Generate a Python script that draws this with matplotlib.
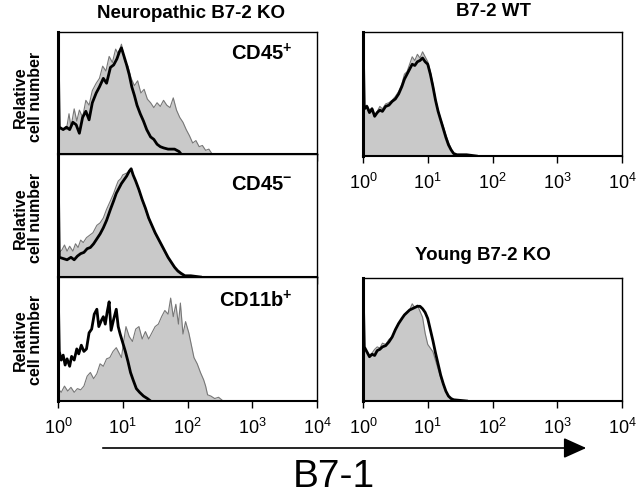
import numpy as np
import matplotlib
matplotlib.use("Agg")
import matplotlib.pyplot as plt

plt.rcParams['font.family'] = ['Liberation Sans', 'DejaVu Sans']
plt.rcParams['mathtext.default'] = 'regular'

# x positions are log10(fluorescence), y is relative cell number (0..1 of panel height)

# --- Neuropathic B7-2 KO, CD45+ ---
cd45p_gray_x = [0.0, 0.0, 0.01, 0.02, 0.08, 0.13, 0.17, 0.2, 0.25, 0.29, 0.33, 0.38, 0.43, 0.48,
                0.53, 0.59, 0.64, 0.69, 0.74, 0.79, 0.84, 0.89, 0.93, 0.98, 1.03, 1.08, 1.13,
                1.18, 1.23, 1.28, 1.33, 1.38, 1.43, 1.48, 1.53, 1.58, 1.63, 1.68, 1.73, 1.78,
                1.83, 1.88, 1.93, 1.98, 2.03, 2.08, 2.13, 2.18, 2.23, 2.28, 2.33, 2.38]
cd45p_gray_y = [0.0, 0.56, 0.56, 0.2, 0.21, 0.2, 0.33, 0.22, 0.37, 0.27, 0.36, 0.3, 0.44, 0.4,
                0.52, 0.58, 0.62, 0.72, 0.68, 0.8, 0.75, 0.86, 0.82, 0.9, 0.76, 0.72, 0.62,
                0.56, 0.6, 0.5, 0.53, 0.45, 0.42, 0.38, 0.42, 0.39, 0.44, 0.4, 0.38, 0.46,
                0.36, 0.3, 0.26, 0.2, 0.15, 0.09, 0.11, 0.06, 0.07, 0.03, 0.04, 0.0]
cd45p_black_x = [0.0, 0.0, 0.02, 0.08, 0.13, 0.18, 0.23, 0.28, 0.33, 0.38, 0.43, 0.48, 0.53,
                 0.59, 0.64, 0.7, 0.75, 0.81, 0.86, 0.91, 0.95, 0.98, 1.02, 1.06, 1.1, 1.14,
                 1.18, 1.22, 1.27, 1.32, 1.37, 1.43, 1.48, 1.53, 1.58, 1.63, 1.7, 1.8, 1.87, 1.9]
cd45p_black_y = [0.0, 0.95, 0.22, 0.2, 0.22, 0.2, 0.26, 0.24, 0.17, 0.3, 0.35, 0.28, 0.42,
                 0.5, 0.55, 0.62, 0.58, 0.71, 0.73, 0.78, 0.84, 0.87, 0.8, 0.73, 0.65, 0.55,
                 0.48, 0.4, 0.33, 0.27, 0.2, 0.14, 0.12, 0.08, 0.06, 0.05, 0.04, 0.04, 0.02, 0.0]

# --- Neuropathic B7-2 KO, CD45- ---
cd45n_gray_x = [0.0, 0.0, 0.01, 0.02, 0.06, 0.1, 0.14, 0.18, 0.23, 0.27, 0.31, 0.35, 0.39, 0.44,
                0.49, 0.54, 0.6, 0.65, 0.7, 0.75, 0.81, 0.86, 0.9, 0.93, 0.97, 1.0, 1.04, 1.08,
                1.12, 1.15, 1.2, 1.25, 1.3, 1.35, 1.4, 1.45, 1.5, 1.55, 1.6, 1.65, 1.7, 1.75,
                1.8, 1.85, 1.9, 1.98, 2.1]
cd45n_gray_y = [0.0, 0.61, 0.61, 0.2, 0.22, 0.26, 0.21, 0.25, 0.21, 0.27, 0.24, 0.3, 0.28, 0.32,
                0.34, 0.36, 0.42, 0.44, 0.48, 0.55, 0.62, 0.68, 0.74, 0.78, 0.8, 0.83, 0.84, 0.85,
                0.87, 0.84, 0.78, 0.7, 0.62, 0.55, 0.47, 0.41, 0.35, 0.3, 0.25, 0.2, 0.15, 0.11,
                0.07, 0.04, 0.02, 0.01, 0.0]
cd45n_black_x = [0.0, 0.0, 0.02, 0.08, 0.14, 0.2, 0.25, 0.3, 0.35, 0.4, 0.45, 0.5, 0.55, 0.6,
                 0.65, 0.7, 0.75, 0.81, 0.86, 0.9, 0.94, 0.98, 1.02, 1.06, 1.1, 1.13, 1.16, 1.2,
                 1.25, 1.3, 1.35, 1.4, 1.45, 1.5, 1.55, 1.6, 1.65, 1.7, 1.75, 1.8, 1.85, 1.9,
                 1.96, 2.05, 2.2]
cd45n_black_y = [0.0, 1.0, 0.16, 0.15, 0.14, 0.16, 0.14, 0.17, 0.19, 0.2, 0.23, 0.24, 0.27, 0.31,
                 0.35, 0.4, 0.46, 0.55, 0.62, 0.68, 0.72, 0.76, 0.79, 0.82, 0.86, 0.88, 0.83, 0.78,
                 0.71, 0.63, 0.56, 0.48, 0.42, 0.36, 0.31, 0.26, 0.21, 0.16, 0.12, 0.08, 0.05, 0.03,
                 0.01, 0.01, 0.0]

# --- Neuropathic B7-2 KO, CD11b+ ---
cd11b_gray_x = [0.0, 0.0, 0.05, 0.1, 0.15, 0.2, 0.25, 0.3, 0.35, 0.4, 0.45, 0.5, 0.55, 0.6, 0.65,
                0.7, 0.75, 0.8, 0.85, 0.9, 0.95, 0.98, 1.02, 1.05, 1.1, 1.15, 1.2, 1.25, 1.3,
                1.35, 1.4, 1.45, 1.5, 1.55, 1.6, 1.65, 1.7, 1.74, 1.78, 1.82, 1.86, 1.89, 1.93,
                1.97, 2.02, 2.06, 2.1, 2.15, 2.2, 2.25, 2.28, 2.31, 2.36, 2.42, 2.48, 2.55]
cd11b_gray_y = [0.0, 0.1, 0.07, 0.12, 0.08, 0.11, 0.07, 0.1, 0.09, 0.12, 0.2, 0.23, 0.18, 0.22, 0.3,
                0.28, 0.34, 0.35, 0.4, 0.43, 0.38, 0.35, 0.5, 0.6, 0.52, 0.48, 0.58, 0.6, 0.5,
                0.56, 0.5, 0.55, 0.6, 0.62, 0.68, 0.73, 0.7, 0.83, 0.68, 0.78, 0.62, 0.79, 0.54,
                0.64, 0.55, 0.45, 0.35, 0.3, 0.23, 0.17, 0.12, 0.05, 0.04, 0.02, 0.03, 0.0]
cd11b_black_x = [0.0, 0.0, 0.02, 0.05, 0.08, 0.11, 0.14, 0.18, 0.21, 0.25, 0.29, 0.32, 0.36, 0.4,
                 0.44, 0.48, 0.52, 0.56, 0.6, 0.63, 0.67, 0.7, 0.73, 0.76, 0.79, 0.82, 0.86, 0.9,
                 0.93, 0.96, 1.0, 1.04, 1.08, 1.12, 1.16, 1.21, 1.26, 1.32, 1.38, 1.43]
cd11b_black_y = [0.0, 1.0, 0.4, 0.33, 0.37, 0.29, 0.34, 0.28, 0.36, 0.33, 0.42, 0.38, 0.45, 0.4,
                 0.42, 0.55, 0.58, 0.7, 0.74, 0.6, 0.65, 0.68, 0.62, 0.72, 0.8, 0.57, 0.66, 0.74,
                 0.6, 0.54, 0.47, 0.4, 0.32, 0.23, 0.17, 0.1, 0.07, 0.04, 0.02, 0.0]

# --- B7-2 WT ---
wt_gray_x = [0.0, 0.0, 0.01, 0.02, 0.06, 0.1, 0.14, 0.18, 0.22, 0.26, 0.3, 0.35, 0.4, 0.45, 0.5,
             0.55, 0.6, 0.64, 0.68, 0.72, 0.76, 0.8, 0.84, 0.88, 0.92, 0.96, 1.0, 1.04, 1.08,
             1.12, 1.16, 1.2, 1.24, 1.28, 1.32, 1.36, 1.4, 1.45, 1.6, 1.75]
wt_gray_y = [0.0, 0.67, 0.67, 0.4, 0.41, 0.37, 0.39, 0.33, 0.36, 0.4, 0.38, 0.42, 0.43, 0.45, 0.48,
             0.52, 0.58, 0.66, 0.68, 0.74, 0.8, 0.77, 0.82, 0.79, 0.84, 0.8, 0.76, 0.68, 0.58,
             0.46, 0.37, 0.3, 0.24, 0.17, 0.11, 0.06, 0.02, 0.01, 0.01, 0.0]
wt_black_x = [0.0, 0.0, 0.02, 0.06, 0.1, 0.14, 0.18, 0.22, 0.26, 0.3, 0.35, 0.4, 0.45, 0.5, 0.55,
              0.6, 0.64, 0.68, 0.72, 0.76, 0.8, 0.84, 0.88, 0.92, 0.96, 1.0, 1.04, 1.08, 1.12,
              1.16, 1.2, 1.24, 1.28, 1.32, 1.36, 1.4, 1.45, 1.6, 1.75]
wt_black_y = [0.0, 1.0, 0.38, 0.4, 0.35, 0.38, 0.32, 0.35, 0.37, 0.36, 0.4, 0.41, 0.44, 0.46, 0.5,
              0.56, 0.62, 0.66, 0.7, 0.74, 0.73, 0.76, 0.77, 0.79, 0.76, 0.74, 0.66, 0.56, 0.45,
              0.36, 0.29, 0.22, 0.15, 0.09, 0.05, 0.02, 0.01, 0.01, 0.0]

# --- Young B7-2 KO ---
young_gray_x = [0.0, 0.0, 0.01, 0.02, 0.06, 0.1, 0.14, 0.18, 0.22, 0.26, 0.3, 0.35, 0.4, 0.45,
                0.5, 0.55, 0.6, 0.64, 0.68, 0.72, 0.76, 0.8, 0.84, 0.88, 0.92, 0.96, 1.0, 1.04,
                1.08, 1.12, 1.16, 1.2, 1.24, 1.28, 1.32, 1.36, 1.4, 1.6]
young_gray_y = [0.0, 0.7, 0.7, 0.42, 0.4, 0.37, 0.39, 0.42, 0.44, 0.43, 0.47, 0.46, 0.5, 0.52,
                0.58, 0.63, 0.66, 0.7, 0.72, 0.74, 0.79, 0.76, 0.78, 0.73, 0.68, 0.55, 0.46, 0.43,
                0.4, 0.33, 0.26, 0.19, 0.13, 0.08, 0.04, 0.02, 0.01, 0.0]
young_black_x = [0.0, 0.0, 0.02, 0.06, 0.1, 0.14, 0.18, 0.22, 0.26, 0.3, 0.35, 0.4, 0.45, 0.5,
                 0.55, 0.6, 0.64, 0.68, 0.72, 0.76, 0.8, 0.84, 0.88, 0.92, 0.96, 1.0, 1.04, 1.08,
                 1.12, 1.16, 1.2, 1.24, 1.28, 1.32, 1.36, 1.4, 1.6]
young_black_y = [0.0, 0.97, 0.44, 0.4, 0.36, 0.38, 0.37, 0.41, 0.42, 0.44, 0.45, 0.48, 0.52, 0.58,
                 0.63, 0.67, 0.7, 0.72, 0.74, 0.75, 0.76, 0.77, 0.77, 0.75, 0.72, 0.67, 0.58, 0.49,
                 0.39, 0.3, 0.21, 0.14, 0.08, 0.04, 0.02, 0.01, 0.0]

tick_vals = [1, 10, 100, 1000, 10000]
tick_labels = ['10$^{0}$', '10$^{1}$', '10$^{2}$', '10$^{3}$', '10$^{4}$']

W, H = 640.0, 496.0


def px_axes(fig, x0, y0, x1, y1):
    # pixel box (top-left origin) -> figure axes
    return fig.add_axes([x0 / W, 1 - y1 / H, (x1 - x0) / W, (y1 - y0) / H])


def draw_hist(ax, gx, gy, bx, by, label=None, label_y=0.82, show_ticks=True):
    gx = 10 ** np.array(gx)
    bx = 10 ** np.array(bx)
    ax.fill_between(gx, gy, 0, color='#c9c9c9', lw=0)
    ax.plot(gx, gy, color='#777777', lw=0.8)
    ax.plot(bx, by, color='black', lw=2.0)
    ax.set_xscale('log')
    ax.set_xlim(1, 1e4)
    ax.set_ylim(0, 1.0)
    ax.set_yticks([])
    ax.minorticks_off()
    ax.set_xticks(tick_vals)
    ax.tick_params(axis='x', direction='out', length=5, width=1, pad=7, labelsize=13)
    if show_ticks:
        ax.set_xticklabels(tick_labels)
    else:
        ax.set_xticklabels([])
    for s in ax.spines.values():
        s.set_linewidth(1.0)
    ax.spines['left'].set_linewidth(2.2)
    ax.spines['bottom'].set_linewidth(1.5)
    if label:
        ax.text(0.905, label_y, label, transform=ax.transAxes, ha='right', va='center',
                fontsize=14.5, fontweight='bold')


fig = plt.figure(figsize=(6.4, 4.96), dpi=100)

ax1 = px_axes(fig, 58, 32, 317, 154)
draw_hist(ax1, cd45p_gray_x, cd45p_gray_y, cd45p_black_x, cd45p_black_y,
          'CD45$^{+}$', 0.82, show_ticks=False)
ax2 = px_axes(fig, 58, 154, 317, 277)
draw_hist(ax2, cd45n_gray_x, cd45n_gray_y, cd45n_black_x, cd45n_black_y,
          'CD45$^{-}$', 0.75, show_ticks=False)
ax3 = px_axes(fig, 58, 277, 317, 401)
draw_hist(ax3, cd11b_gray_x, cd11b_gray_y, cd11b_black_x, cd11b_black_y,
          'CD11b$^{+}$', 0.81)

ax4 = px_axes(fig, 363, 32, 622, 156)
draw_hist(ax4, wt_gray_x, wt_gray_y, wt_black_x, wt_black_y)
ax5 = px_axes(fig, 363, 278, 622, 401)
draw_hist(ax5, young_gray_x, young_gray_y, young_black_x, young_black_y)

# titles
fig.text(191 / W, 1 - 13 / H, 'Neuropathic B7-2 KO', ha='center', va='center',
         fontsize=13.5, fontweight='bold')
fig.text(493 / W, 1 - 12 / H, 'B7-2 WT', ha='center', va='center',
         fontsize=13.5, fontweight='bold')
fig.text(483 / W, 1 - 256 / H, 'Young B7-2 KO', ha='center', va='center',
         fontsize=13.5, fontweight='bold')

# y labels on the left panels
for yc in [97, 218, 340]:
    fig.text(28 / W, 1 - yc / H, 'Relative\ncell number', ha='center', va='center',
             rotation=90, fontsize=11.5, fontweight='bold', linespacing=1.05)

# B7-1 arrow
fig.add_artist(matplotlib.patches.FancyArrowPatch(
    (100 / W, 1 - 448 / H), (589 / W, 1 - 448 / H), transform=fig.transFigure,
    arrowstyle='-|>,head_length=1.0,head_width=0.45', mutation_scale=14,
    color='black', lw=1.2))
fig.text(334 / W, 1 - 477 / H, 'B7-1', ha='center', va='center', fontsize=28)

plt.savefig('out.png', dpi=100)
